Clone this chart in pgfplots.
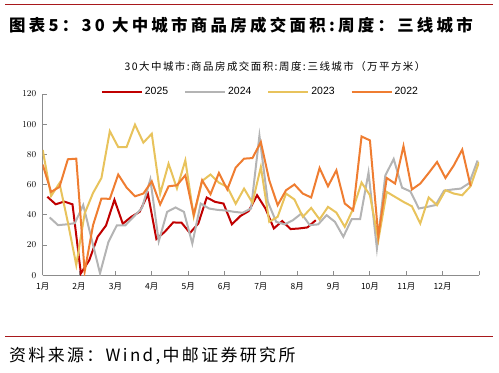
\documentclass[border=0pt]{standalone}
\usepackage{fontspec}
\usepackage{pgfplots}
\usepackage{pgfplotstable}
\pgfplotsset{compat=1.18}
\setmainfont{Liberation Sans}
\newfontfamily\cjk{Noto Sans CJK SC}
\newfontfamily\cjkt[LetterSpace=20]{Noto Sans CJK SC}
\newfontfamily\cjkm[LetterSpace=14]{Noto Sans CJK SC}
\newfontfamily\cjks[LetterSpace=14]{Noto Sans CJK SC}
\definecolor{c25}{HTML}{C00000}
\definecolor{c24}{HTML}{B4B4B4}
\definecolor{c23}{HTML}{E8C35C}
\definecolor{c22}{HTML}{EF7D31}
\definecolor{rulec}{HTML}{A8181C}
\definecolor{axisgray}{HTML}{8C8C8C}

\pgfplotstableread{
v
52
47
48.8
47
1.3
10
25.5
33
50
34.1
38.7
42
53.7
24
28.8
35
34.8
28
34.3
51.5
48.6
47.5
33.7
39.2
42.5
53
44.2
31
35.9
30.6
31
31.7
36.5
}\tA

\pgfplotstableread{
v
38.3
33.2
33.7
34.5
46.5
24
1.3
22
33
33
38.7
44.5
63.5
22.5
42
44.9
42
21
47.5
44.2
43.3
42.9
42
41.4
44.2
92.4
48.6
35.4
33.7
36.5
40.9
33.2
33.7
39.8
35.4
25.5
37.2
37.2
68
17.8
66
77
58
55.5
44.2
45.3
46.5
56
56.8
57.4
61
76
}\tB

\pgfplotstableread{
v
83
52.5
61
35
6.8
40.9
54.5
64.4
95.4
84.9
84.9
99.7
87.8
93.7
54
73.9
57.5
76.1
39
62.5
66.7
61.3
58.5
47.3
57.4
48
71.7
35.4
38.7
54.1
50.2
38.7
44.6
37
45.3
41.5
32.1
44
61.4
53
23.3
55.2
51.9
48.6
45.7
34.3
51.5
46.4
56.3
54.1
53
59
75
}\tC

\pgfplotstableread{
v
73.3
55.2
58.5
76.8
77.2
2.4
33.2
50.8
50.6
66.7
58.1
52.3
54.1
62.2
46.9
58.9
59.6
66.2
40
62.9
53.7
67.7
56.8
71.3
77.2
77.6
88.2
62.9
46.4
56.3
60.1
54.1
51.5
71
58.9
69.5
47.5
43.1
91.9
89.3
25.9
64.4
60.7
85.5
56.8
60.7
67.7
75
64.4
72.8
83.2
59
}\tD

\begin{document}
\begin{tikzpicture}[x=1bp,y=1bp]
\path[use as bounding box] (0,0) rectangle (499,372);
\draw[rulec, line width=1bp] (5,367) -- (493,367);
\draw[rulec, line width=1bp] (5,35.3) -- (493,35.3);
\node[anchor=west, inner sep=0pt, font=\cjkt\bfseries\fontsize{16.5}{18}\selectfont] at (9,346.3) {图表5：30 大中城市商品房成交面积:周度：三线城市};
\node[anchor=center, inner sep=0pt, font=\cjkm\fontsize{10.5}{12}\selectfont] at (275,305.3) {30大中城市:商品房成交面积:周度:\,三线城市（万平方米）};
\node[anchor=west, inner sep=0pt, font=\cjks\fontsize{17}{19}\selectfont] at (9,16) {资料来源：Wind,中邮证券研究所};
\begin{axis}[
  at={(42.7bp,96.7bp)}, anchor=south west,
  scale only axis, width=436.3bp, height=181.3bp,
  xmin=0, xmax=52, ymin=0, ymax=120,
  axis x line*=bottom, axis y line*=left,
  axis line style={axisgray, line width=0.9bp, -},
  tick style={axisgray, line width=0.9bp},
  tick align=inside,
  major tick length=4bp,
  xtick={0,4.3333,8.6667,13,17.3333,21.6667,26,30.3333,34.6667,39,43.3333,47.6667,52},
  xticklabels={1月,2月,3月,4月,5月,6月,7月,8月,9月,10月,11月,12月,},
  ytick={0,20,40,60,80,100,120},
  xticklabel style={font=\cjk\fontsize{8.5}{10}\selectfont, yshift=-4bp},
  yticklabel style={font=\fontsize{9.5}{11}\selectfont, xshift=-3bp},
  legend columns=4,
  legend style={at={(0.499,1.0127)}, anchor=center, draw=none, fill=none,
    font=\fontsize{10.5}{12}\selectfont,
    /tikz/every even column/.append style={column sep=14bp}},
  legend image code/.code={\draw[#1] (0bp,0bp) -- (40bp,0bp);},
]
\addplot[c25, line width=2bp] table[x expr=\coordindex+0.55, y=v] {\tA};
\addlegendentry{2025}
\addplot[c24, line width=2bp] table[x expr=\coordindex+0.83, y=v] {\tB};
\addlegendentry{2024}
\addplot[c23, line width=2bp] table[x expr=\coordindex, y=v] {\tC};
\addlegendentry{2023}
\addplot[c22, line width=2bp] table[x expr=\coordindex, y=v] {\tD};
\addlegendentry{2022}
\end{axis}
\end{tikzpicture}
\end{document}
